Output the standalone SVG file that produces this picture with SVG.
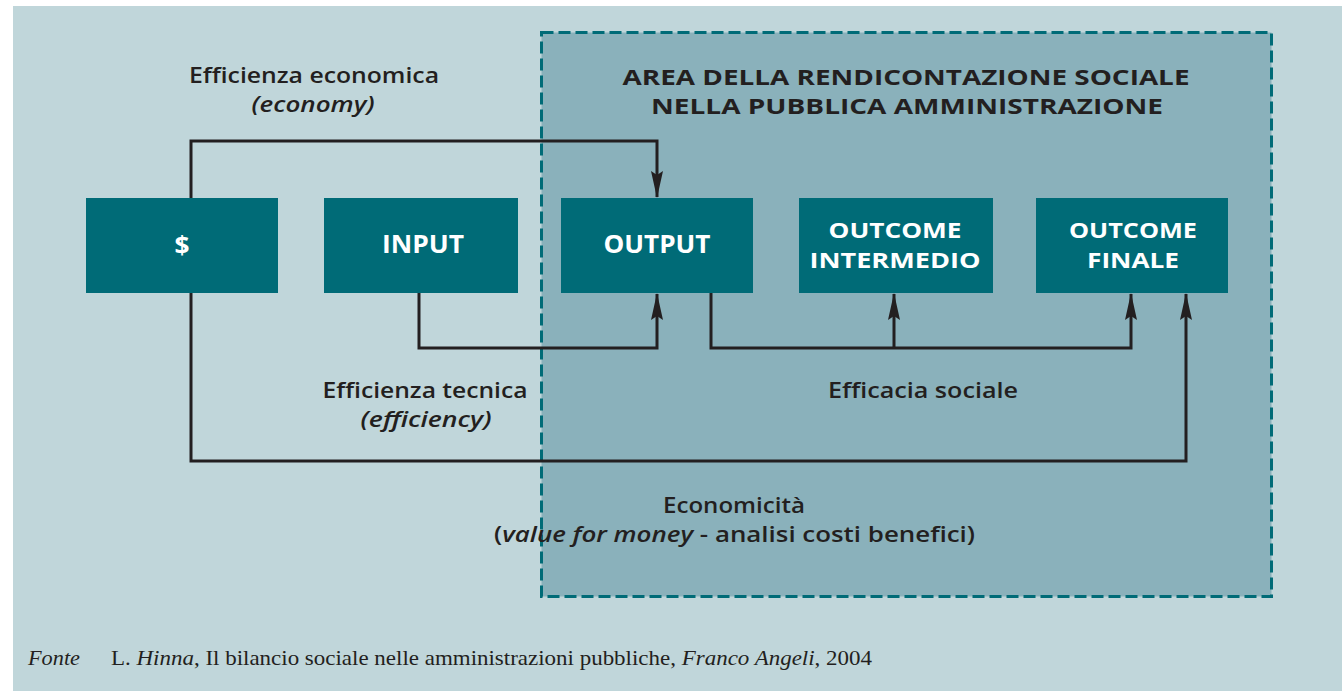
<svg xmlns="http://www.w3.org/2000/svg" width="1342" height="691" viewBox="0 0 1342 691">
<defs>
<style>
.lbl{font-family:"Open Sans","Liberation Sans",sans-serif;font-weight:600;font-size:22px;fill:#231F20}
.it{font-style:italic}
.node{fill:#006B77}
.nt{font-family:"Open Sans","Liberation Sans",sans-serif;font-weight:700;font-size:22px;fill:#FFFFFF}
.big{font-size:25px}
.ttl{font-family:"Open Sans","Liberation Sans",sans-serif;font-weight:700;font-size:22px;fill:#231F20}
.conn{fill:none;stroke:#231F20;stroke-width:3;marker-end:url(#arr)}
.foot{font-family:"Liberation Serif",serif;font-size:21px;fill:#231F20}
</style>
<marker id="arr" markerUnits="userSpaceOnUse" markerWidth="28" markerHeight="14" refX="26" refY="7" orient="auto">
<path d="M0,1 L27,7 L0,13 L4,7 z" fill="#231F20"/>
</marker>
</defs>
<rect x="0" y="0" width="1342" height="691" fill="#FFFFFF"/>
<rect x="13" y="6" width="1329" height="685" fill="#C0D6DA"/>
<g id="area">
<rect x="541.5" y="32.5" width="730" height="564" fill="#8AB1BB" stroke="#006B77" stroke-width="3" stroke-dasharray="12 5"/>
<text class="ttl" x="906" y="85" text-anchor="middle" textLength="567" lengthAdjust="spacingAndGlyphs">AREA DELLA RENDICONTAZIONE SOCIALE</text>
<text class="ttl" x="907" y="114" text-anchor="middle" textLength="512" lengthAdjust="spacingAndGlyphs">NELLA PUBBLICA AMMINISTRAZIONE</text>
</g>
<g id="connectors">
<path class="conn" d="M191,198 V141 H657 V197"/>
<path class="conn" d="M419,293 V348 H657 V294"/>
<path class="conn" d="M711,293 V348 H1131 V294"/>
<path class="conn" d="M894,348 V294"/>
<path class="conn" d="M191,293 V461 H1186 V294"/>
</g>
<g id="node-dollar">
<rect class="node" x="86" y="198" width="192" height="95"/>
<text class="nt big" x="182" y="254" text-anchor="middle" textLength="15" lengthAdjust="spacingAndGlyphs">$</text>
</g>
<g id="node-input">
<rect class="node" x="324" y="198" width="194" height="95"/>
<text class="nt big" x="423" y="253" text-anchor="middle" textLength="82" lengthAdjust="spacingAndGlyphs">INPUT</text>
</g>
<g id="node-output">
<rect class="node" x="561" y="198" width="192" height="95"/>
<text class="nt big" x="657" y="253" text-anchor="middle" textLength="107" lengthAdjust="spacingAndGlyphs">OUTPUT</text>
</g>
<g id="node-intermedio">
<rect class="node" x="799" y="198" width="194" height="95"/>
<text class="nt" x="895" y="238" text-anchor="middle" textLength="133" lengthAdjust="spacingAndGlyphs">OUTCOME</text>
<text class="nt" x="895" y="268" text-anchor="middle" textLength="171" lengthAdjust="spacingAndGlyphs">INTERMEDIO</text>
</g>
<g id="node-finale">
<rect class="node" x="1036" y="198" width="192" height="95"/>
<text class="nt" x="1133" y="238" text-anchor="middle" textLength="128" lengthAdjust="spacingAndGlyphs">OUTCOME</text>
<text class="nt" x="1133" y="268" text-anchor="middle" textLength="92" lengthAdjust="spacingAndGlyphs">FINALE</text>
</g>
<g id="labels">
<text class="lbl" x="314" y="83" text-anchor="middle" textLength="250" lengthAdjust="spacingAndGlyphs">Efficienza economica</text>
<text class="lbl it" x="313" y="112" text-anchor="middle" textLength="123" lengthAdjust="spacingAndGlyphs">(economy)</text>
<text class="lbl" x="425" y="398" text-anchor="middle" textLength="205" lengthAdjust="spacingAndGlyphs">Efficienza tecnica</text>
<text class="lbl it" x="426" y="427" text-anchor="middle" textLength="131" lengthAdjust="spacingAndGlyphs">(efficiency)</text>
<text class="lbl" x="923" y="398" text-anchor="middle" textLength="190" lengthAdjust="spacingAndGlyphs">Efficacia sociale</text>
<text class="lbl" x="734" y="513" text-anchor="middle" textLength="142" lengthAdjust="spacingAndGlyphs">Economicità</text>
<text class="lbl" x="494" y="542" textLength="481" lengthAdjust="spacingAndGlyphs">(<tspan class="it">value for money</tspan> - analisi costi benefici)</text>
</g>
<g id="footer">
<text class="foot" x="28" y="665" font-style="italic" textLength="52" lengthAdjust="spacingAndGlyphs">Fonte</text>
<text class="foot" x="111" y="665" textLength="761" lengthAdjust="spacingAndGlyphs">L. <tspan font-style="italic">Hinna</tspan>, Il bilancio sociale nelle amministrazioni pubbliche, <tspan font-style="italic">Franco Angeli</tspan>, 2004</text>
</g>
</svg>
